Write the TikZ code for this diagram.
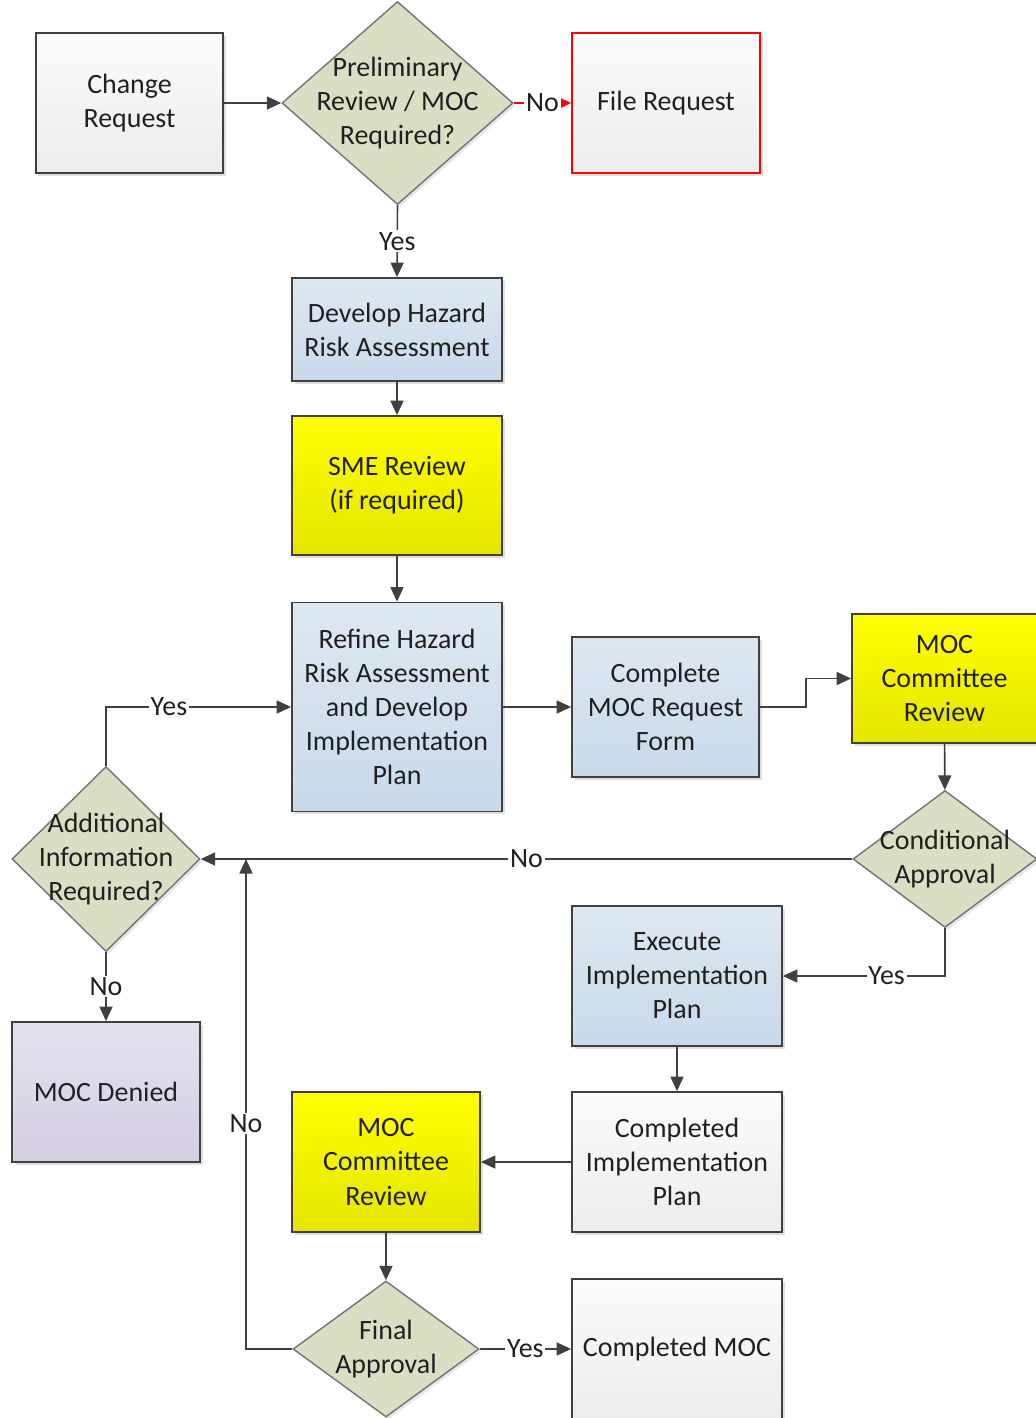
\documentclass[tikz,border=0pt]{standalone}
\usepackage{fontspec}
\setmainfont{Carlito}
\usepackage{tikz}
\usetikzlibrary{positioning,arrows.meta,shapes.geometric,shadows}
\definecolor{linegray}{HTML}{404040}
\definecolor{txtgray}{HTML}{202020}
\definecolor{grayTop}{HTML}{FBFBFB}
\definecolor{grayBot}{HTML}{EDEDED}
\definecolor{blueTop}{HTML}{DEE8F1}
\definecolor{blueBot}{HTML}{C8DAEA}
\definecolor{yellowTop}{HTML}{FFFF00}
\definecolor{yellowBot}{HTML}{E5E500}
\definecolor{purpleTop}{HTML}{E4E1EE}
\definecolor{purpleBot}{HTML}{D5CFE2}
\definecolor{olive}{HTML}{D9DFC3}

\begin{document}
\begin{tikzpicture}[
  font=\fontsize{15.9}{19.4}\selectfont, text=txtgray,
  box/.style={draw=linegray, line width=1pt, align=center, inner sep=2pt,
    minimum width=4.2cm, minimum height=2.8cm,
    drop shadow={shadow xshift=0.05cm, shadow yshift=-0.05cm, opacity=0.25}},
  graybox/.style={box, top color=grayTop, bottom color=grayBot},
  bluebox/.style={box, top color=blueTop, bottom color=blueBot},
  yellowbox/.style={box, top color=yellowTop, bottom color=yellowBot},
  purplebox/.style={box, top color=purpleTop, bottom color=purpleBot},
  decision/.style={diamond, draw=black!55, line width=0.8pt, fill=olive, inner sep=0pt,
    drop shadow={shadow xshift=0.05cm, shadow yshift=-0.05cm, opacity=0.2}},
  arr/.style={-{Triangle[length=0.29cm, width=0.26cm]}, line width=0.9pt, draw=linegray},
  lab/.style={fill=white, inner sep=1pt}]
\useasboundingbox (0,0) rectangle (20.72,-28.36);

% top row
\node[graybox, minimum width=3.74cm] (request) at (2.59,-2.06) {Change\\Request};
\node[decision, minimum width=4.62cm, minimum height=4.06cm,
  label={[align=center]center:Preliminary\\Review / MOC\\Required?}] (prelim) at (7.95,-2.06) {};
\node[graybox, draw=red, minimum width=3.76cm] (filereq) at (13.32,-2.06) {File Request};

% middle column
\node[bluebox, minimum height=2.06cm] (hazard) at (7.94,-6.59) {Develop Hazard\\Risk Assessment};
\node[yellowbox, minimum height=2.78cm] (sme) at (7.94,-9.71) {SME Review\\(if required)};
\node[bluebox, minimum height=4.18cm] (refine) at (7.94,-14.14)
  {Refine Hazard\\Risk Assessment\\and Develop\\Implementation\\Plan};
\node[bluebox, minimum width=3.74cm] (form) at (13.31,-14.14) {Complete\\MOC Request\\Form};
\node[yellowbox, minimum width=3.70cm, minimum height=2.58cm] (review) at (18.89,-13.57) {MOC\\Committee\\Review};
\node[decision, minimum width=3.68cm, minimum height=2.74cm,
  label={[align=center]center:Conditional\\Approval}] (cond) at (18.90,-17.18) {};

% lower part
\node[bluebox] (execute) at (13.54,-19.52) {Execute\\Implementation\\Plan};
\node[graybox] (implplan) at (13.54,-23.24) {Completed\\Implementation\\Plan};
\node[yellowbox, minimum width=3.76cm] (finalreview) at (7.72,-23.24) {MOC\\Committee\\Review};
\node[decision, minimum width=3.72cm, minimum height=2.72cm,
  label={[align=center]center:Final\\Approval}] (final) at (7.72,-26.98) {};
\node[graybox] (done) at (13.54,-26.98) {Completed MOC};

% left side
\node[decision, minimum width=3.76cm, minimum height=3.70cm,
  label={[align=center]center:Additional\\Information\\Required?}] (addinfo) at (2.12,-17.18) {};
\node[purplebox, minimum width=3.76cm] (denied) at (2.12,-21.84) {MOC Denied};
\coordinate (merge) at (4.92,-17.18);

% connectors
\draw[arr] (request.east) -- (prelim.west);
\draw[arr, draw=red, -{Triangle[length=0.22cm, width=0.2cm]}] (prelim.east) -- node[lab] {No} (filereq.west);
\draw[arr] (prelim.south) -- node[lab] {Yes} (hazard.north);
\draw[arr] (hazard) -- (sme);
\draw[arr] (sme) -- (refine);
\draw[arr] (refine.east) -- (form.west);
\draw[arr] (form.east) -- ++(0.92,0) |- (review.west);
\draw[arr] (review) -- (cond);
\draw[arr] (cond.west) -- node[lab] {No} (addinfo.east);
\draw[arr] (cond.south) |- node[lab, pos=0.68] {Yes} (execute.east);
\draw[arr] (execute) -- (implplan);
\draw[arr] (implplan) -- (finalreview);
\draw[arr] (finalreview) -- (final);
\draw[arr] (final.east) -- node[lab] {Yes} (done.west);
\draw[arr] (final.west) -| node[lab, pos=0.73] {No} (merge);
\draw[arr] (addinfo.north) |- node[lab, pos=0.67] {Yes} (refine.west);
\draw[arr] (addinfo.south) -- node[lab] {No} (denied.north);
\end{tikzpicture}
\end{document}
